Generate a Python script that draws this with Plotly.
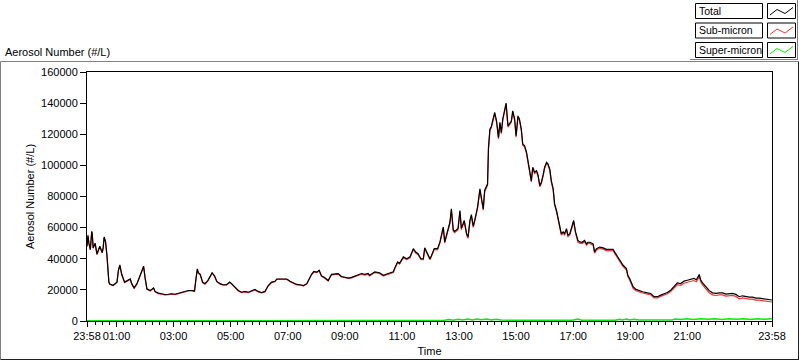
import datetime as dt
import plotly.graph_objects as go

# ---------------- data ----------------
start_label = "2011-01-01 23:58"

# minutes after 23:58 for the Total / Sub-micron samples
minutes = [
    0, 2, 4, 7, 10, 11, 13, 17, 21, 24,
    27, 32, 34, 36, 39, 42, 44, 46, 48, 55,
    63, 66, 69, 73, 79, 84, 91, 94, 99, 105,
    112, 119, 122, 126, 133, 140, 143, 150, 157, 164,
    171, 178, 185, 192, 199, 206, 213, 220, 226, 229,
    232, 234, 238, 243, 248, 254, 259, 263, 268, 273,
    280, 286, 293, 300, 304, 311, 318, 325, 332, 339,
    346, 353, 360, 367, 374, 377, 381, 388, 395, 399,
    406, 413, 420, 427, 434, 441, 448, 455, 462, 467,
    472, 477, 483, 488, 493, 500, 507, 514, 521, 528,
    535, 543, 550, 556, 564, 571, 577, 584, 591, 594,
    605, 615, 623, 633, 644, 647, 653, 657, 665, 672,
    679, 686, 691, 696, 702, 707, 710, 716, 721, 724,
    730, 737, 742, 745, 749, 752, 758, 763, 766, 770,
    773, 780, 784, 787, 793, 798, 801, 805, 808, 812,
    815, 821, 826, 829, 833, 836, 840, 842, 844, 847,
    850, 854, 857, 861, 865, 868, 871, 874, 878, 881,
    885, 888, 892, 895, 899, 902, 906, 909, 913, 916,
    920, 924, 927, 931, 934, 937, 941, 945, 948, 952,
    955, 959, 962, 966, 969, 973, 976, 980, 983, 987,
    990, 994, 997, 1001, 1004, 1008, 1011, 1015, 1018, 1023,
    1027, 1032, 1036, 1041, 1046, 1050, 1053, 1057, 1064, 1067,
    1071, 1078, 1085, 1092, 1099, 1106, 1109, 1113, 1120, 1127,
    1134, 1137, 1141, 1145, 1148, 1154, 1161, 1168, 1178, 1185,
    1192, 1199, 1206, 1213, 1220, 1227, 1234, 1241, 1248, 1255,
    1262, 1269, 1276, 1281, 1287, 1290, 1294, 1301, 1308, 1315,
    1322, 1329, 1336, 1343, 1350, 1357, 1364, 1371, 1378, 1385,
    1392, 1399, 1406, 1413, 1420, 1427, 1434, 1440,
]

total = [
    48000, 55000, 50000, 46000, 57600, 56000, 47000, 50000, 43000, 46000,
    48000, 44000, 47000, 54000, 51000, 42000, 30000, 25000, 23700, 23000,
    25000, 32600, 36000, 30000, 25000, 26000, 27000, 24000, 21300, 24000,
    30000, 35200, 28000, 20700, 19600, 21300, 19000, 17900, 17500, 17000,
    17200, 17500, 17200, 17900, 18500, 19000, 19600, 19600, 19300, 27000,
    33500, 31000, 30000, 25000, 24000, 26000, 29200, 31000, 29000, 25400,
    24000, 23300, 23300, 25000, 24000, 21800, 19600, 18500, 19000, 18500,
    19600, 20300, 19000, 18300, 19000, 20700, 22800, 25000, 25500, 27000,
    27000, 26600, 27000, 25500, 24300, 23500, 23300, 22800, 24000, 27000,
    30000, 31800, 31400, 32600, 29000, 27800, 26000, 30000, 30000, 30400,
    28600, 28000, 27600, 28000, 29000, 30000, 30500, 30000, 30500, 29400,
    31600, 31000, 29400, 30500, 31600, 34100, 38000, 37000, 41200, 40000,
    41200, 46500, 44300, 43200, 40000, 40000, 47000, 43200, 40000, 42000,
    46500, 46500, 50800, 55000, 60400, 50800, 57200, 63600, 72100, 58500,
    57600, 59500, 71000, 59500, 64600, 56100, 54000, 64600, 68300, 61000,
    64600, 73200, 84900, 78500, 72000, 84000, 87000, 88000, 111500, 123300,
    125000, 130800, 134000, 128500, 118000, 127600, 121200, 129800, 136000, 140000,
    125400, 126500, 128500, 135000, 129800, 119000, 131800, 129800, 123300, 113700,
    112600, 108400, 103000, 94500, 90200, 98800, 95600, 96600, 94000, 87000,
    89000, 94000, 98800, 102000, 101000, 97400, 90200, 84900, 75300, 71000,
    66800, 60400, 56100, 57200, 56100, 59300, 55000, 56100, 59300, 64600,
    57200, 51800, 50800, 50600, 51800, 49500, 50600, 50600, 49500, 44400,
    46500, 47500, 47000, 46000, 46000, 46000, 44400, 42600, 39700, 35800,
    33700, 29400, 27200, 24100, 22000, 20300, 19400, 18800, 18100, 17700,
    15600, 15600, 16600, 17300, 18300, 19800, 22400, 24500, 24100, 25600,
    26200, 26900, 27300, 26500, 29900, 26500, 24500, 22000, 19500, 18100,
    17700, 18100, 18100, 17300, 17300, 17700, 17100, 15600, 16200, 15600,
    15300, 15300, 14700, 14700, 14500, 14300, 13900, 13500,
]

sub_micron = [
    47700, 54700, 49700, 45700, 57300, 55700, 46700, 49700, 42700, 45700,
    47700, 43700, 46700, 53700, 50700, 41700, 29700, 24700, 23400, 22700,
    24700, 32300, 35700, 29700, 24700, 25700, 26700, 23700, 21000, 23700,
    29700, 34900, 27700, 20400, 19300, 21000, 18700, 17600, 17200, 16700,
    16900, 17200, 16900, 17600, 18200, 18700, 19300, 19300, 19000, 26700,
    33200, 30700, 29700, 24700, 23700, 25700, 28900, 30700, 28700, 25100,
    23700, 23000, 23000, 24700, 23700, 21500, 19300, 18200, 18700, 18200,
    19300, 20000, 18700, 18000, 18700, 20400, 22500, 24700, 25200, 26700,
    26700, 26300, 26700, 25200, 24000, 23200, 23000, 22500, 23700, 26700,
    29700, 31500, 31100, 32300, 28700, 27500, 25700, 29700, 29700, 30100,
    28300, 27700, 27300, 27700, 28700, 29700, 30000, 29500, 30000, 28900,
    31100, 30500, 28900, 30000, 31100, 33600, 37500, 36500, 40700, 39500,
    40600, 45900, 43700, 42600, 39400, 39400, 46400, 42600, 39400, 41400,
    45900, 45900, 50200, 54300, 59500, 50000, 56400, 62800, 71200, 57700,
    56800, 58600, 70200, 58700, 63700, 55300, 53100, 63800, 67400, 60200,
    63800, 72300, 84000, 77700, 71200, 83100, 86200, 87200, 110600, 122400,
    124100, 129900, 133100, 127700, 117000, 126800, 120300, 128900, 135200, 139200,
    124600, 125700, 127700, 134200, 129000, 118100, 131000, 129000, 122500, 112900,
    111800, 107600, 102200, 93700, 89400, 98000, 94800, 95800, 93200, 86200,
    88200, 93200, 98000, 101200, 100200, 96600, 89400, 84100, 74500, 70200,
    66000, 59600, 55300, 56400, 55300, 58500, 54200, 55300, 58500, 63800,
    56400, 50600, 50000, 49800, 51000, 48700, 49800, 49800, 48700, 43600,
    45700, 46700, 46200, 45200, 45200, 45200, 43600, 41800, 38700, 34900,
    32700, 28500, 26200, 23200, 21000, 19400, 18600, 18000, 17300, 16900,
    14800, 14800, 15800, 16500, 17500, 18900, 21300, 23300, 22900, 24300,
    24900, 25600, 26000, 25200, 28600, 25200, 23200, 20700, 18200, 16800,
    16400, 16800, 16800, 16000, 16000, 16400, 15800, 14300, 14900, 14300,
    14000, 14000, 13400, 13400, 13200, 13000, 12600, 12200,
]

# Super-micron has its own (coarser) sample times
super_minutes = [
    0, 30, 60, 90, 120, 150, 180, 210, 240, 270,
    300, 330, 360, 390, 420, 450, 480, 510, 540, 570,
    600, 630, 660, 690, 720, 750, 760, 770, 780, 790,
    800, 810, 820, 830, 840, 850, 860, 870, 900, 930,
    960, 990, 1020, 1032, 1040, 1080, 1110, 1120, 1125, 1135,
    1140, 1150, 1160, 1200, 1230, 1236, 1250, 1260, 1275, 1290,
    1305, 1320, 1335, 1350, 1365, 1380, 1395, 1410, 1425, 1440,
]
super_micron = [
    150, 100, 150, 100, 150, 100, 150, 100, 150, 100,
    150, 100, 150, 100, 150, 100, 150, 100, 200, 250,
    300, 250, 300, 350, 300, 400, 900, 500, 1100, 600,
    1200, 700, 1300, 800, 1200, 700, 1100, 600, 500, 400,
    450, 400, 500, 1200, 500, 450, 500, 1100, 600, 1200,
    700, 1100, 600, 600, 700, 1300, 900, 1400, 1000, 1500,
    1100, 1400, 1000, 1500, 1100, 1400, 1000, 1500, 1100, 1400,
]

tick_hours = [1, 3, 5, 7, 9, 11, 13, 15, 17, 19, 21]
tick_labels = ["23:58"] + [f"{h:02d}:00" for h in tick_hours] + ["23:58"]
series_names = ["Total", "Sub-micron", "Super-micron"]
series_colors = ["#000000", "#ff3030", "#00ee00"]

# ---------------- build ----------------
t0 = dt.datetime.strptime(start_label, "%Y-%m-%d %H:%M")
times = [t0 + dt.timedelta(minutes=m) for m in minutes]
super_times = [t0 + dt.timedelta(minutes=m) for m in super_minutes]
day2 = t0.date() + dt.timedelta(days=1)
tick_vals = ([t0] + [dt.datetime.combine(day2, dt.time(h, 0)) for h in tick_hours]
             + [t0 + dt.timedelta(days=1)])

fig = go.Figure()
fig.add_trace(go.Scatter(x=times, y=sub_micron, mode="lines", name=series_names[1],
                         line=dict(color=series_colors[1], width=1.2)))
fig.add_trace(go.Scatter(x=times, y=total, mode="lines", name=series_names[0],
                         line=dict(color=series_colors[0], width=1.2)))
fig.add_trace(go.Scatter(x=super_times, y=super_micron, mode="lines", name=series_names[2],
                         line=dict(color=series_colors[2], width=1.5)))

L, T, W, H = 87, 72, 685, 249
FIG_W, FIG_H = 800, 361


def px(x):
    return (x - L) / W


def py(y):
    return (T + H - y) / H


font = "Liberation Sans, Arial, sans-serif"
fig.update_layout(
    width=FIG_W, height=FIG_H,
    margin=dict(l=L, r=FIG_W - L - W, t=T, b=FIG_H - T - H, pad=0, autoexpand=False),
    paper_bgcolor="white", plot_bgcolor="white",
    showlegend=False, hovermode=False,
    font=dict(family=font, size=11, color="black"),
)
fig.update_xaxes(
    range=[t0, t0 + dt.timedelta(days=1)], automargin=False, tickangle=0,
    tickmode="array", tickvals=tick_vals, ticktext=tick_labels,
    ticks="outside", ticklen=5, tickcolor="black", tickwidth=1,
    minor=dict(ticks="outside", ticklen=3, tickcolor="black",
               dtick=15 * 60 * 1000, tick0=dt.datetime.combine(day2, dt.time(0, 0)),
               showgrid=False),
    showline=True, linecolor="black", linewidth=1, mirror=True,
    showgrid=False, zeroline=False,
    title=dict(text="Time", standoff=6, font=dict(size=11)),
    tickfont=dict(size=11),
)
fig.update_yaxes(
    range=[0, 160000], tick0=0, dtick=20000, tickformat="d", automargin=False,
    ticks="outside", ticklen=6, tickcolor="black", tickwidth=1,
    showline=True, linecolor="black", linewidth=1, mirror=True,
    showgrid=False, zeroline=False,
    title=dict(text="Aerosol Number (#/L)", standoff=4, font=dict(size=11)),
    tickfont=dict(size=11),
)

shapes = []
# panel frame (3D-ish)
shapes.append(dict(type="line", xref="paper", yref="paper", x0=px(0.5), x1=px(798), y0=py(61.5), y1=py(61.5),
                   line=dict(color="#808080", width=1)))
shapes.append(dict(type="line", xref="paper", yref="paper", x0=px(0.5), x1=px(0.5), y0=py(61.5), y1=py(359.5),
                   line=dict(color="#808080", width=1)))
shapes.append(dict(type="line", xref="paper", yref="paper", x0=px(0.5), x1=px(799), y0=py(359.5), y1=py(359.5),
                   line=dict(color="#202020", width=1)))
shapes.append(dict(type="line", xref="paper", yref="paper", x0=px(798.5), x1=px(798.5), y0=py(61.5), y1=py(359.5),
                   line=dict(color="#202020", width=1)))
# legend panel edges
shapes.append(dict(type="line", xref="paper", yref="paper", x0=px(690), x1=px(798), y0=py(59.5), y1=py(59.5),
                   line=dict(color="#808080", width=1)))
shapes.append(dict(type="line", xref="paper", yref="paper", x0=px(797.5), x1=px(797.5), y0=py(0), y1=py(59.5),
                   line=dict(color="#808080", width=1)))

annotations = [dict(text="Aerosol Number (#/L)", xref="paper", yref="paper", x=px(3), y=py(52),
                    xanchor="left", yanchor="middle", showarrow=False, font=dict(size=11))]

row_tops = [3.5, 23.0, 42.5]
for name, color, top in zip(series_names, series_colors, row_tops):
    bot = top + 15
    shapes.append(dict(type="rect", xref="paper", yref="paper", x0=px(695.5), x1=px(762.5),
                       y0=py(bot), y1=py(top), line=dict(color="black", width=1), fillcolor="white"))
    shapes.append(dict(type="rect", xref="paper", yref="paper", x0=px(767.5), x1=px(795.5),
                       y0=py(bot), y1=py(top), line=dict(color="black", width=1), fillcolor="white"))
    pts = [(770, top + 11.5), (777, top + 6), (785, top + 10), (793, top + 4)]
    path = "M " + " L ".join(f"{px(a):.5f} {py(b):.5f}" for a, b in pts)
    shapes.append(dict(type="path", xref="paper", yref="paper", path=path,
                       line=dict(color=color, width=1)))
    annotations.append(dict(text=name, xref="paper", yref="paper", x=px(697), y=py(top + 7.5),
                            xanchor="left", yanchor="middle", showarrow=False, font=dict(size=10.5)))

fig.update_layout(shapes=shapes, annotations=annotations)

fig.write_html(
    "out.html",
    config={"displayModeBar": False, "staticPlot": True},
    post_script="document.body.style.margin='0';document.body.style.overflow='hidden';",
)
